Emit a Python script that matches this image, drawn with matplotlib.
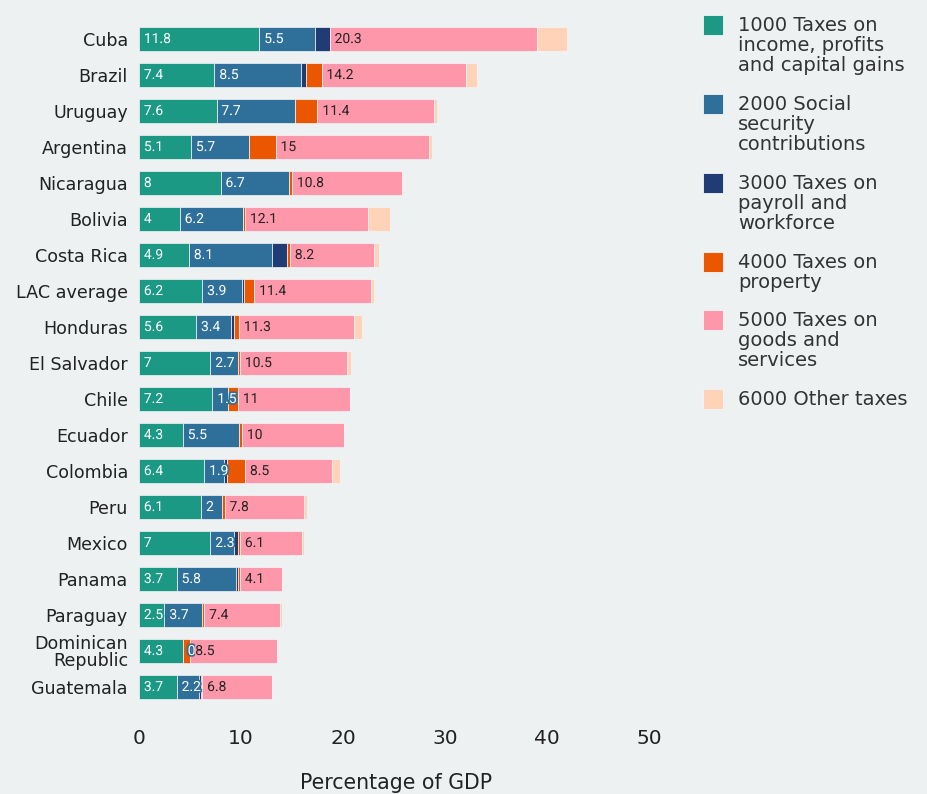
import matplotlib
matplotlib.use("Agg")
import matplotlib.pyplot as plt
import matplotlib.patheffects as pe
from matplotlib.patches import Rectangle
import numpy as np

countries = ["Cuba", "Brazil", "Uruguay", "Argentina", "Nicaragua", "Bolivia",
             "Costa Rica", "LAC average", "Honduras", "El Salvador", "Chile",
             "Ecuador", "Colombia", "Peru", "Mexico", "Panama", "Paraguay",
             "Dominican\nRepublic", "Guatemala"]

income   = [11.8, 7.4, 7.6, 5.1, 8.0, 4.0, 4.9, 6.2, 5.6, 7.0, 7.2, 4.3, 6.4, 6.1, 7.0, 3.7, 2.5, 4.3, 3.7]
social   = [5.5, 8.5, 7.7, 5.7, 6.7, 6.2, 8.1, 3.9, 3.4, 2.7, 1.5, 5.5, 1.9, 2.0, 2.3, 5.8, 3.7, 0.04, 2.2]
payroll  = [1.4, 0.5, 0.0, 0.0, 0.0, 0.0, 1.5, 0.2, 0.3, 0.0, 0.0, 0.0, 0.3, 0.0, 0.4, 0.2, 0.0, 0.0, 0.2]
property_ = [0.0, 1.5, 2.2, 2.6, 0.3, 0.2, 0.3, 1.0, 0.5, 0.2, 1.0, 0.3, 1.8, 0.3, 0.2, 0.2, 0.2, 0.7, 0.1]
goods    = [20.3, 14.2, 11.4, 15.0, 10.8, 12.1, 8.2, 11.4, 11.3, 10.5, 11.0, 10.0, 8.5, 7.8, 6.1, 4.1, 7.4, 8.5, 6.8]
other    = [3.0, 1.0, 0.3, 0.3, 0.1, 2.1, 0.5, 0.3, 0.8, 0.4, 0.0, 0.0, 0.8, 0.3, 0.2, 0.0, 0.2, 0.0, 0.0]

series_labels = ["1000 Taxes on\nincome, profits\nand capital gains",
                 "2000 Social\nsecurity\ncontributions",
                 "3000 Taxes on\npayroll and\nworkforce",
                 "4000 Taxes on\nproperty",
                 "5000 Taxes on\ngoods and\nservices",
                 "6000 Other taxes"]

x_ticks = [0, 10, 20, 30, 40, 50]

series = [income, social, payroll, property_, goods, other]
colors = ["#1b9985", "#2e7099", "#213b74", "#eb5600", "#ff97aa", "#ffd3b7"]
labelled = {0: "white", 1: "white", 4: "#222222"}

W, H = 928, 794
bg = "#edf1f2"
fig = plt.figure(figsize=(W / 100, H / 100), dpi=100, facecolor=bg)
ax = fig.add_axes([139 / W, 1 - 705 / H, 510 / W, 684 / H], facecolor=bg)

y = np.arange(len(countries))
left = np.zeros(len(countries))
for i, (vals, col) in enumerate(zip(series, colors)):
    vals = np.array(vals)
    ax.barh(y, vals, left=left, height=0.67, color=col,
            edgecolor="#f4f6f7", linewidth=0.5, label=series_labels[i])
    if i in labelled:
        for yi, (l, v) in enumerate(zip(left, vals)):
            txt = f"{round(v, 1):g}"
            ax.annotate(txt, (l, yi), xytext=(3.5, 0), textcoords="offset points",
                        ha="left", va="center", fontsize=10, family="Roboto",
                        color=labelled[i],
                        path_effects=[pe.Stroke(linewidth=2.5, foreground=col),
                                      pe.Normal()])
    left = left + vals

ax.set_xlim(0, 50)
ax.set_ylim(len(countries) - 0.5, -0.5)
ax.set_yticks(y)
ax.set_yticklabels(countries, fontsize=12.6, family="DejaVu Sans", color="#222222",
                   linespacing=0.92)
ax.set_xticks(x_ticks)
ax.set_xticklabels([str(t) for t in x_ticks], fontsize=14.5, family="DejaVu Sans",
                   color="#222222")
ax.tick_params(axis="both", length=0)
ax.tick_params(axis="y", pad=8)
ax.tick_params(axis="x", pad=17)
for s in ax.spines.values():
    s.set_visible(False)

fig.text(396 / W, 1 - 789 / H, "Percentage of GDP", ha="center", va="baseline",
         fontsize=14.8, family="DejaVu Sans", color="#222222")

# legend drawn as swatches with wrapped labels, swatch aligned to first line
line_px, gap_px = 21, 16
c = 25
for lab, col in zip(series_labels, colors):
    fig.patches.append(Rectangle((703 / W, 1 - (c + 10) / H), 20 / W, 20 / H,
                                 transform=fig.transFigure, facecolor=col,
                                 edgecolor="#f4f6f7", linewidth=0.6))
    fig.text(738 / W, 1 - (c - 9) / H, lab, ha="left", va="top",
             fontsize=14, family="DejaVu Sans", color="#333333", linespacing=1.06)
    c += line_px * (lab.count("\n") + 1) + gap_px

fig.savefig("out.png", dpi=100, facecolor=bg)
